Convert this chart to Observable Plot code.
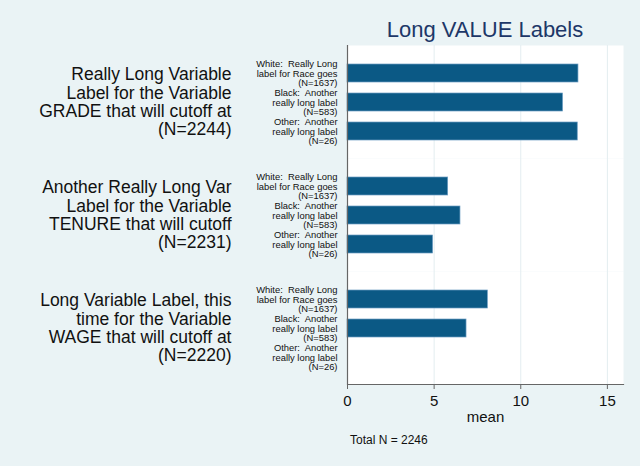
<!DOCTYPE html>
<html>
<head>
<meta charset="utf-8">
<script src="https://cdn.jsdelivr.net/npm/d3@7"></script>
<script src="https://cdn.jsdelivr.net/npm/@observablehq/plot@0.6"></script>
<style>
  html, body { margin: 0; padding: 0; background: #eaf3f5; }
  #wrap { position: relative; width: 640px; height: 466px; overflow: hidden;
          font-family: "Liberation Sans", Arial, Helvetica, sans-serif; }
  #title { position: absolute; left: 347px; width: 276px; top: 19px; text-align: center;
           font-size: 22px; line-height: 22px; color: #1d3768; white-space: nowrap; }
  #note { position: absolute; left: 350px; top: 434px; font-size: 12px; line-height: 12px; color: #111; white-space: nowrap; }
  svg text { white-space: pre; }
</style>
</head>
<body>
<div id="wrap">
  <div id="chart"></div>
  <div id="title">Long VALUE Labels</div>
  <div id="note">Total N = 2246</div>
</div>
<script>
// categories
const groups = ["GRADE", "TENURE", "WAGE"];
const groupLabels = [
  "Really Long Variable\nLabel for the Variable\nGRADE that will cutoff at\n(N=2244)",
  "Another Really Long Var\nLabel for the Variable\nTENURE that will cutoff\n(N=2231)",
  "Long Variable Label, this\ntime for the Variable\nWAGE that will cutoff at\n(N=2220)"
];
const races = ["White", "Black", "Other"];
const raceLabels = [
  "White:  Really Long\nlabel for Race goes\n(N=1637)",
  "Black:  Another\nreally long label\n(N=583)",
  "Other:  Another\nreally long label\n(N=26)"
];
// series values (mean), per variable, by race
const gradeMeans  = [13.33, 12.44, 13.29];
const tenureMeans = [5.81, 6.52, 4.94];
const wageMeans   = [8.10, 6.87, null];
// tick labels
const xTicks = [0, 5, 10, 15];

const seriesByGroup = [gradeMeans, tenureMeans, wageMeans];
const rows = [];
groups.forEach((g, gi) => {
  races.forEach((r, ri) => {
    const v = seriesByGroup[gi][ri];
    if (v != null) rows.push({group: g, race: r, mean: v});
  });
});

const chart = Plot.plot({
  width: 640,
  height: 466,
  marginTop: 45,
  marginBottom: 82,
  marginLeft: 347,
  marginRight: 17,
  style: {background: "transparent", fontFamily: "Liberation Sans, Arial, Helvetica, sans-serif", color: "#111"},
  x: {domain: [0, 15.93]},
  y: {domain: races, paddingInner: 0.386, paddingOuter: 0.621},
  fy: {domain: groups, padding: 0},
  marks: [
    Plot.frame({fill: "white", stroke: null}),
    Plot.gridX({ticks: [5, 10, 15], stroke: "#e3edf0", strokeOpacity: 1}),
    Plot.barX(rows, {x: "mean", y: "race", fy: "group", fill: "#0b5985", stroke: "#6b9cc2", strokeWidth: 0.7}),
    Plot.ruleX([0], {stroke: "#666", strokeWidth: 1.2}),
    Plot.axisY({tickSize: 0, tickPadding: 10, fontSize: 9.4, lineHeight: 1.0, label: null,
                tickFormat: d => raceLabels[races.indexOf(d)]}),
    Plot.axisFy({anchor: "left", tickSize: 0, tickPadding: 116, fontSize: 17.5, lineHeight: 1.05, label: null,
                 tickFormat: d => groupLabels[groups.indexOf(d)]}),
    Plot.axisX({ticks: xTicks, tickSize: 5, tickPadding: 6, fontSize: 15, stroke: "#666",
                label: "mean", labelAnchor: "center", labelArrow: "none", labelOffset: 37}),
    Plot.frame({anchor: "bottom", facetAnchor: "bottom", stroke: "#666", strokeWidth: 1.2})
  ]
});
document.getElementById("chart").appendChild(chart);
</script>
</body>
</html>
